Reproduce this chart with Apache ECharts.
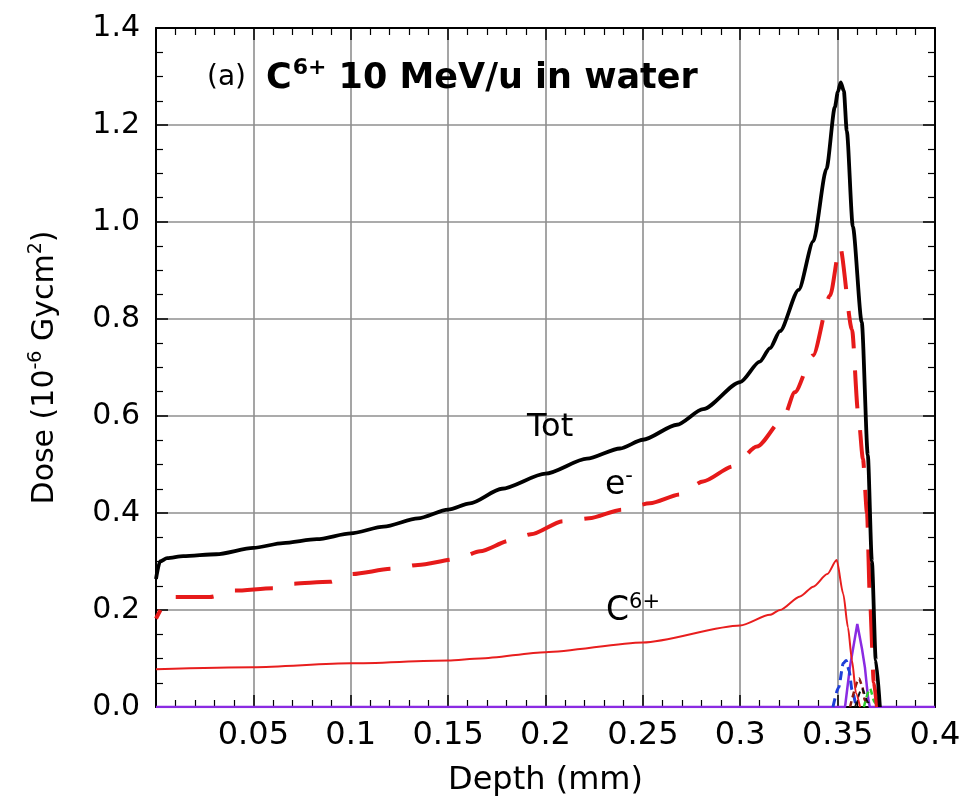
<!DOCTYPE html>
<html>
<head>
<meta charset="utf-8">
<script src="https://cdn.jsdelivr.net/npm/echarts@6/dist/echarts.min.js"></script>
<style>
html,body{margin:0;padding:0;background:#fff;}
#chart{width:977px;height:807px;}
</style>
</head>
<body>
<div id="chart"></div>
<script>
// ---- data ----
const xTickLabels = ['', '0.05', '0.1', '0.15', '0.2', '0.25', '0.3', '0.35', '0.4'];
const yTickLabels = ['0.0', '0.2', '0.4', '0.6', '0.8', '1.0', '1.2', '1.4'];

const totDepth = [0.0, 0.002, 0.0057, 0.014, 0.031, 0.05, 0.0652, 0.0826, 0.1, 0.117, 0.1345, 0.15, 0.1612, 0.1776, 0.2, 0.2213, 0.2383, 0.25, 0.2675, 0.2809, 0.3, 0.31, 0.3153, 0.3204, 0.33, 0.3375, 0.3443, 0.3486, 0.3501, 0.3516, 0.3532, 0.3547, 0.3578, 0.3624, 0.3655, 0.3676, 0.3696, 0.3717];
const totDose  = [0.264, 0.300, 0.307, 0.311, 0.315, 0.328, 0.338, 0.346, 0.358, 0.372, 0.389, 0.407, 0.420, 0.450, 0.481, 0.512, 0.533, 0.551, 0.582, 0.614, 0.670, 0.712, 0.740, 0.775, 0.860, 0.960, 1.110, 1.237, 1.268, 1.288, 1.270, 1.188, 0.991, 0.793, 0.520, 0.300, 0.096, 0.0];

const eDepth = [0.0, 0.0072, 0.0277, 0.0405, 0.06, 0.0688, 0.0893, 0.1, 0.1217, 0.1345, 0.1545, 0.1664, 0.1817, 0.1925, 0.209, 0.2224, 0.2393, 0.2536, 0.2691, 0.2809, 0.2963, 0.3086, 0.322, 0.328, 0.3374, 0.3461, 0.3512, 0.3574, 0.3605, 0.363, 0.3651, 0.3666, 0.3686, 0.3702];
const eDose  = [0.182, 0.227, 0.227, 0.240, 0.245, 0.254, 0.258, 0.274, 0.285, 0.293, 0.305, 0.321, 0.343, 0.356, 0.383, 0.389, 0.407, 0.420, 0.438, 0.465, 0.496, 0.537, 0.594, 0.649, 0.725, 0.848, 0.950, 0.778, 0.608, 0.512, 0.400, 0.220, 0.050, 0.0];

const cDepth = [0.0, 0.05, 0.1, 0.15, 0.1664, 0.2, 0.25, 0.3, 0.3153, 0.3204, 0.3307, 0.3375, 0.3447, 0.3495, 0.3529, 0.3553, 0.3574, 0.3594, 0.3615];
const cDose  = [0.078, 0.082, 0.090, 0.096, 0.100, 0.113, 0.133, 0.168, 0.190, 0.200, 0.228, 0.248, 0.274, 0.303, 0.233, 0.164, 0.096, 0.029, 0.0];

const blueDepth = [0.3476, 0.3505, 0.3529, 0.3544, 0.3559, 0.3574, 0.3595];
const blueDose  = [0.0, 0.040, 0.090, 0.096, 0.075, 0.035, 0.0];

const purpleDepth = [0.0, 0.3538, 0.3563, 0.3601, 0.3625, 0.364, 0.3656, 0.3665, 0.40];
const purpleDose  = [0.0, 0.0, 0.082, 0.171, 0.120, 0.082, 0.020, 0.0, 0.0];

const brownDepth = [0.3564, 0.361, 0.3625, 0.364, 0.365];
const brownDose  = [0.0, 0.059, 0.045, 0.014, 0.0];

const blackSmallDepth = [0.359, 0.3625, 0.3656, 0.3666];
const blackSmallDose  = [0.0, 0.038, 0.010, 0.0];

const greenDepth = [0.3635, 0.3666, 0.369, 0.3705];
const greenDose  = [0.0, 0.038, 0.010, 0.0];

// ---- build ----
const pairs = (xs, ys) => xs.map((x, i) => [x, ys[i]]);
const FONT = 'DejaVu Sans';

const chart = echarts.init(document.getElementById('chart'), null, {renderer: 'canvas'});

const baseX = {
  type: 'value', min: 0, max: 0.4, interval: 0.05,
  axisLine: {show: true, onZero: false, lineStyle: {color: '#000', width: 2}},
  axisTick: {show: true, inside: true, length: 12, lineStyle: {color: '#000', width: 1.5}},
  minorTick: {show: true, splitNumber: 5, length: 7, lineStyle: {color: '#000', width: 1.2}},
};
const baseY = {
  type: 'value', min: 0, max: 1.4, interval: 0.2,
  axisLine: {show: true, onZero: false, lineStyle: {color: '#000', width: 2}},
  axisTick: {show: true, inside: true, length: 12, lineStyle: {color: '#000', width: 1.5}},
  minorTick: {show: true, splitNumber: 4, length: 7, lineStyle: {color: '#000', width: 1.2}},
};

const lineBase = {type: 'line', showSymbol: false, smooth: 0.25, smoothMonotone: 'x'};

const option = {
  backgroundColor: '#fff',
  animation: false,
  grid: {left: 156, right: 42, top: 28, bottom: 100, containLabel: false},
  xAxis: [
    Object.assign({}, baseX, {
      position: 'bottom',
      name: 'Depth (mm)', nameLocation: 'middle', nameGap: 58,
      nameTextStyle: {fontFamily: FONT, fontSize: 32, color: '#000'},
      axisLabel: {show: true, margin: 13, fontFamily: FONT, fontSize: 32, color: '#000',
        formatter: (v) => xTickLabels[Math.round(v / 0.05)] || ''},
      splitLine: {show: true, lineStyle: {color: '#8f8f8f', width: 1.6}}
    }),
    Object.assign({}, baseX, {
      position: 'top', axisLabel: {show: false}, splitLine: {show: false}
    })
  ],
  yAxis: [
    Object.assign({}, baseY, {
      position: 'left',
      name: '{n|Dose (10}{s|-6}{n| Gycm}{s|2}{n|)}',
      nameLocation: 'middle', nameGap: 92, nameRotate: 90,
      nameTextStyle: {
        fontFamily: FONT, fontSize: 30, color: '#000',
        rich: {
          n: {fontFamily: FONT, fontSize: 30, color: '#000'},
          s: {fontFamily: FONT, fontSize: 19, color: '#000', padding: [0, 0, 18, 0]}
        }
      },
      axisLabel: {show: true, margin: 16, fontFamily: FONT, fontSize: 30, color: '#000',
        formatter: (v) => yTickLabels[Math.round(v / 0.2)] || ''},
      splitLine: {show: true, lineStyle: {color: '#8f8f8f', width: 1.6}}
    }),
    Object.assign({}, baseY, {
      position: 'right', axisLabel: {show: false}, splitLine: {show: false}
    })
  ],
  series: [
    Object.assign({}, lineBase, {name: 'purple', data: pairs(purpleDepth, purpleDose), smooth: false,
      lineStyle: {color: '#8a2be2', width: 2.5}, z: 3}),
    Object.assign({}, lineBase, {name: 'blue', data: pairs(blueDepth, blueDose),
      lineStyle: {color: '#1f3fd8', width: 3, type: [9, 5]}, z: 3}),
    Object.assign({}, lineBase, {name: 'brown', data: pairs(brownDepth, brownDose),
      lineStyle: {color: '#8b1a10', width: 2.5, type: [6, 4]}, z: 3}),
    Object.assign({}, lineBase, {name: 'black small', data: pairs(blackSmallDepth, blackSmallDose),
      lineStyle: {color: '#111', width: 2, type: [6, 4]}, z: 3}),
    Object.assign({}, lineBase, {name: 'green', data: pairs(greenDepth, greenDose),
      lineStyle: {color: '#2ecc2e', width: 2.5, type: [6, 4]}, z: 3}),
    Object.assign({}, lineBase, {name: 'C6+', data: pairs(cDepth, cDose),
      lineStyle: {color: '#e81e1e', width: 2}, z: 4}),
    Object.assign({}, lineBase, {name: 'e-', data: pairs(eDepth, eDose),
      lineStyle: {color: '#e61a1a', width: 4, type: [38, 22], dashOffset: 28}, z: 5}),
    Object.assign({}, lineBase, {name: 'Tot', data: pairs(totDepth, totDose),
      lineStyle: {color: '#000', width: 3.8}, z: 6})
  ],
  graphic: [
    {type: 'text', left: 207, top: 57, z: 100, style: {
      text: '{a|(a)}{b|C}{s|6+}{b| 10 MeV/u in water}',
      rich: {
        a: {fontFamily: FONT, fontSize: 28, color: '#000', padding: [0, 20, 2, 0]},
        b: {fontFamily: FONT, fontSize: 35, fontWeight: 'bold', color: '#000'},
        s: {fontFamily: FONT, fontSize: 22, fontWeight: 'bold', color: '#000', padding: [0, 0, 22, 1]}
      }
    }},
    {type: 'text', left: 527, top: 412, z: 100, style: {
      text: 'Tot', fontFamily: FONT, fontSize: 32, fill: '#000'}},
    {type: 'text', left: 605, top: 466, z: 100, style: {
      text: '{n|e}{s|-}',
      rich: {
        n: {fontFamily: FONT, fontSize: 33, color: '#000'},
        s: {fontFamily: FONT, fontSize: 21, color: '#000', padding: [0, 0, 18, 0]}
      }
    }},
    {type: 'text', left: 606, top: 592, z: 100, style: {
      text: '{n|C}{s|6+}',
      rich: {
        n: {fontFamily: FONT, fontSize: 33, color: '#000'},
        s: {fontFamily: FONT, fontSize: 21, color: '#000', padding: [0, 0, 18, 0]}
      }
    }}
  ]
};
chart.setOption(option);
</script>
</body>
</html>
